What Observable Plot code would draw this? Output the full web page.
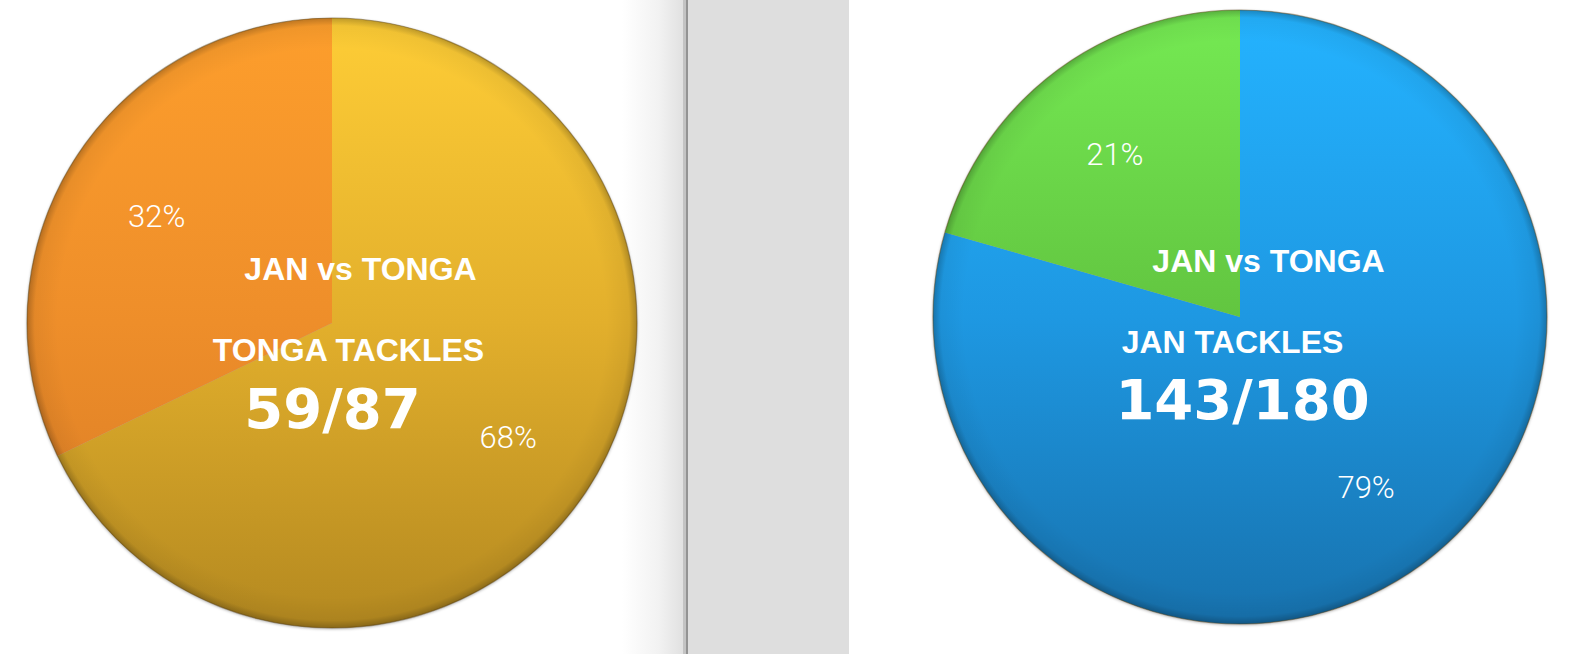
<!DOCTYPE html>
<html><head><meta charset="utf-8">
<script src="https://cdn.jsdelivr.net/npm/d3@7"></script>
<script src="https://cdn.jsdelivr.net/npm/@observablehq/plot@0.6"></script>
<style>
html,body{margin:0;padding:0;background:#fff;}
#page{position:relative;width:1588px;height:654px;overflow:hidden;background:#fff;}
.shade{position:absolute;top:0;height:654px;}
.pie{position:absolute;}
.pie svg{overflow:visible;max-width:none !important;}
#err{position:absolute;left:700px;top:10px;font:12px monospace;color:red;white-space:pre-wrap;width:140px;z-index:10;word-break:break-all}
</style></head>
<body><div id="page">
<div class="shade" style="left:622px;width:61px;background:linear-gradient(to right,rgba(255,255,255,0),#f2f2f2 60%,#e1e1e1)"></div>
<div class="shade" style="left:683px;width:3px;background:#c3c3c3"></div>
<div class="shade" style="left:686px;width:2px;background:#939393"></div>
<div class="shade" style="left:688px;width:161px;background:#dedede"></div>
<div id="left" class="pie"></div><div id="right" class="pie"></div>
<div id="err"></div>
</div>
<script>
// ---- data ----
const leftSlices = ["made", "missed"];
const leftValues = [59, 28];
const leftTitle = "JAN vs TONGA";
const leftSubtitle = "TONGA TACKLES";
const leftScore = "59/87";

const rightSlices = ["made", "missed"];
const rightValues = [143, 37];
const rightTitle = "JAN vs TONGA";
const rightSubtitle = "JAN TACKLES";
const rightScore = "143/180";

// ---- colours (vertical gradients, top -> bottom) ----
const leftColors = [["#FECD36", "#E2AF2C", "#B48920"], ["#FD9E2C", "#EE8E2A", "#D67924"]];
const rightColors = [["#24B3FF", "#1E98E2", "#1772AE"], ["#75EA53", "#62C540", "#4FA12F"]];

function drawPie(el, slices, values, colors, title, subtitle, score, layout) {
  const {cx, cy, R, prefix, tdx, tdy, sdx, sdy, ndx, ndy} = layout;
  const S = 2 * R + 24;
  const h = S / (2 * R);
  el.style.left = (cx - S / 2) + "px";
  el.style.top = (cy - S / 2) + "px";
  el.style.width = S + "px";
  el.style.height = S + "px";

  const arcs = d3.pie().sort(null).value(d => d)(values);
  const total = d3.sum(values);
  const labels = arcs.map((a, i) => {
    const m = (a.startAngle + a.endAngle) / 2;
    return {slice: slices[i], x: 0.68 * Math.sin(m), y: 0.68 * Math.cos(m), label: d3.format(".0%")(values[i] / total)};
  });

  // pie slices drawn with the chart's own x/y scales (unit circle in data space)
  const pieMark = (index, scales, vals, dims) => {
    const sx = scales && typeof scales.x === "function" ? scales.x : null;
    const sy = scales && typeof scales.y === "function" ? scales.y : null;
    const cxp = sx ? sx(0) : dims.width / 2;
    const cyp = sy ? sy(0) : dims.height / 2;
    const rp = sx ? Math.abs(sx(1) - sx(0)) : R;
    const g = d3.create("svg:g");
    const defs = g.append("defs");
    colors.forEach((stops, i) => {
      const lg = defs.append("linearGradient").attr("id", prefix + i)
        .attr("gradientUnits", "userSpaceOnUse")
        .attr("x1", 0).attr("x2", 0).attr("y1", -rp).attr("y2", rp);
      stops.forEach((c, j) => lg.append("stop").attr("offset", j / (stops.length - 1)).attr("stop-color", c));
    });
    const rg = defs.append("radialGradient").attr("id", prefix + "rim")
      .attr("cx", "50%").attr("cy", "50%").attr("r", "50%");
    rg.append("stop").attr("offset", 0.9).attr("stop-color", "#000").attr("stop-opacity", 0);
    rg.append("stop").attr("offset", 0.975).attr("stop-color", "#000").attr("stop-opacity", 0.05);
    rg.append("stop").attr("offset", 1).attr("stop-color", "#000").attr("stop-opacity", 0.25);

    const arcGen = d3.arc().innerRadius(0).outerRadius(rp);
    const sg = g.append("g")
      .attr("transform", `translate(${cxp},${cyp})`)
      .style("filter", "drop-shadow(0px 1px 1.5px rgba(0,0,0,0.35))");
    arcs.forEach((a, i) => sg.append("path").attr("d", arcGen(a)).attr("fill", `url(#${prefix}${i})`));
    g.append("circle").attr("cx", cxp).attr("cy", cyp).attr("r", rp)
      .attr("fill", `url(#${prefix}rim)`)
      .attr("stroke", "#5a4010").attr("stroke-opacity", 0.45).attr("stroke-width", 1.2);
    return g.node();
  };

  const bold = "Liberation Sans, Arial, Helvetica, sans-serif";
  const chart = Plot.plot({
    width: S, height: S, margin: 0,
    x: {domain: [-h, h], axis: null},
    y: {domain: [-h, h], axis: null},
    style: {background: "transparent", overflow: "visible"},
    marks: [
      pieMark,
      Plot.text(labels, {x: "x", y: "y", text: "label", fill: "white", fontSize: 31, fontWeight: 300, fontFamily: "Roboto, Lato, sans-serif", lineAnchor: "middle", dy: 4}),
      Plot.text([title], {text: d => d, frameAnchor: "middle", lineAnchor: "bottom", dx: tdx, dy: tdy, fill: "white", fontSize: 32, fontWeight: "bold", fontFamily: bold}),
      Plot.text([subtitle], {text: d => d, frameAnchor: "middle", lineAnchor: "bottom", dx: sdx, dy: sdy, fill: "white", fontSize: 32, fontWeight: "bold", fontFamily: bold}),
      Plot.text([score], {text: d => d, frameAnchor: "middle", lineAnchor: "bottom", dx: ndx, dy: ndy, fill: "white", fontSize: 56, fontWeight: "bold", fontFamily: "DejaVu Sans, sans-serif"})
    ]
  });
  el.appendChild(chart);
}

try {
  drawPie(document.getElementById("left"), leftSlices, leftValues, leftColors, leftTitle, leftSubtitle, leftScore,
    {cx: 332, cy: 323, R: 305, prefix: "gl", tdx: 28, tdy: -44, sdx: 16, sdy: 37, ndx: 0, ndy: 104});
  drawPie(document.getElementById("right"), rightSlices, rightValues, rightColors, rightTitle, rightSubtitle, rightScore,
    {cx: 1240, cy: 317, R: 307, prefix: "gr", tdx: 28, tdy: -46, sdx: -8, sdy: 35, ndx: 2, ndy: 101});
} catch (e) {
  document.getElementById("err").textContent = String(e && e.stack || e);
}
</script>
</body></html>
